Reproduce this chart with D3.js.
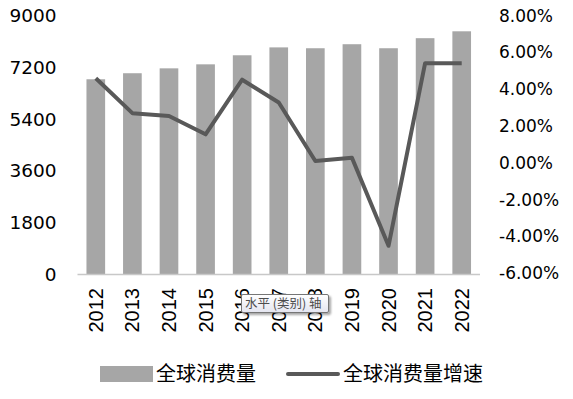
<!DOCTYPE html>
<html lang="zh">

<head>
    <meta charset="UTF-8">
    <style>
        body { margin: 0; background: #fff; }
        svg { display: block; }
    </style>
</head>

<body>
    <svg width="573" height="399"></svg>
    <script src="https://d3js.org/d3.v7.min.js"></script>
    <script>
        // data
        let years = ["2012", "2013", "2014", "2015", "2016", "2017", "2018", "2019", "2020", "2021", "2022"]
        let consumption = [6780, 6990, 7160, 7300, 7615, 7890, 7860, 8000, 7860, 8210, 8450]
        let growth = [0.0459, 0.0269, 0.0254, 0.0154, 0.0451, 0.0327, 0.0009, 0.0027, -0.0452, 0.0541, 0.0541]
        let leftTicks = [0, 1800, 3600, 5400, 7200, 9000]
        let rightTicks = [-0.06, -0.04, -0.02, 0, 0.02, 0.04, 0.06, 0.08]
        let seriesNames = ["全球消费量", "全球消费量增速"]

        let barColor = "#a6a6a6"
        let lineColor = "#595959"

        var svg = d3.select("svg")

        var x = d3.scaleBand()
            .domain(years)
            .range([77.5, 480])
            .paddingInner(0.49)
            .paddingOuter(0.245)

        var yL = d3.scaleLinear().domain([0, 9000]).range([274, 15.5])
        var yR = d3.scaleLinear().domain([-0.06, 0.08]).range([273, 15.5])

        // bars
        svg.append("g")
            .selectAll("rect")
            .data(consumption)
            .join("rect")
            .attr("x", (d, i) => x(years[i]))
            .attr("y", d => yL(d))
            .attr("width", x.bandwidth())
            .attr("height", d => yL(0) - yL(d))
            .attr("fill", barColor)

        // baseline
        svg.append("line")
            .attr("x1", 77.5).attr("x2", 480)
            .attr("y1", yL(0) + 0.5).attr("y2", yL(0) + 0.5)
            .attr("stroke", "#c8c8c8")
            .attr("stroke-width", 1.5)

        // growth line
        var line = d3.line()
            .x((d, i) => x(years[i]) + x.bandwidth() / 2)
            .y(d => yR(d))

        svg.append("path")
            .datum(growth)
            .attr("fill", "none")
            .attr("stroke", lineColor)
            .attr("stroke-width", 4)
            .attr("stroke-linejoin", "round")
            .attr("d", line)

        // left axis labels
        svg.append("g")
            .selectAll("text")
            .data(leftTicks)
            .join("text")
            .attr("x", 56.5)
            .attr("y", d => yL(d))
            .attr("dy", "0.36em")
            .attr("text-anchor", "end")
            .attr("font-family", "DejaVu Sans")
            .attr("font-size", 18.5)
            .attr("fill", "#000")
            .text(d => d)

        // right axis labels
        var pct = d3.format(".2%")
        svg.append("g")
            .selectAll("text")
            .data(rightTicks)
            .join("text")
            .attr("x", 499)
            .attr("y", d => yR(d))
            .attr("dy", "0.36em")
            .attr("font-family", "DejaVu Sans")
            .attr("font-size", 17)
            .attr("fill", "#000")
            .text(d => pct(d).replace("−", "-"))

        // year labels, rotated
        svg.append("g")
            .selectAll("text")
            .data(years)
            .join("text")
            .attr("transform", d => "translate(" + (x(d) + x.bandwidth() / 2 + 7) + ",288) rotate(-90)")
            .attr("text-anchor", "end")
            .attr("font-family", "Liberation Sans")
            .attr("font-size", 20)
            .attr("fill", "#000")
            .text(d => d)

        // tooltip that sits over the axis in the original
        var defs = svg.append("defs")
        var grad = defs.append("linearGradient").attr("id", "tipGrad")
            .attr("x1", 0).attr("y1", 0).attr("x2", 0).attr("y2", 1)
        grad.append("stop").attr("offset", "0%").attr("stop-color", "#ffffff")
        grad.append("stop").attr("offset", "100%").attr("stop-color", "#e4e5f0")
        var filt = defs.append("filter").attr("id", "tipShadow")
            .attr("x", "-10%").attr("y", "-20%").attr("width", "130%").attr("height", "180%")
        filt.append("feDropShadow")
            .attr("dx", 2).attr("dy", 2).attr("stdDeviation", 1.2)
            .attr("flood-color", "#000").attr("flood-opacity", 0.35)

        var tip = svg.append("g")
        tip.append("rect")
            .attr("x", 241.5).attr("y", 294.5)
            .attr("width", 87).attr("height", 18)
            .attr("rx", 1.5)
            .attr("fill", "url(#tipGrad)")
            .attr("stroke", "#767676")
            .attr("filter", "url(#tipShadow)")
        tip.append("text")
            .attr("x", 245).attr("y", 308)
            .attr("font-family", "Noto Sans CJK SC")
            .attr("font-size", 12.5)
            .attr("fill", "#4c4c4c")
            .text("水平 (类别) 轴")

        // legend
        var legend = svg.append("g")
        legend.append("rect")
            .attr("x", 100).attr("y", 366)
            .attr("width", 53).attr("height", 16)
            .attr("fill", barColor)
        legend.append("text")
            .attr("x", 156).attr("y", 374)
            .attr("dy", "0.36em")
            .attr("font-family", "Noto Sans CJK SC")
            .attr("font-size", 20)
            .attr("fill", "#000")
            .text(seriesNames[0])
        legend.append("line")
            .attr("x1", 288).attr("x2", 338)
            .attr("y1", 374).attr("y2", 374)
            .attr("stroke", lineColor)
            .attr("stroke-width", 4)
            .attr("stroke-linecap", "round")
        legend.append("text")
            .attr("x", 343).attr("y", 374)
            .attr("dy", "0.36em")
            .attr("font-family", "Noto Sans CJK SC")
            .attr("font-size", 20)
            .attr("fill", "#000")
            .text(seriesNames[1])
    </script>
</body>

</html>
